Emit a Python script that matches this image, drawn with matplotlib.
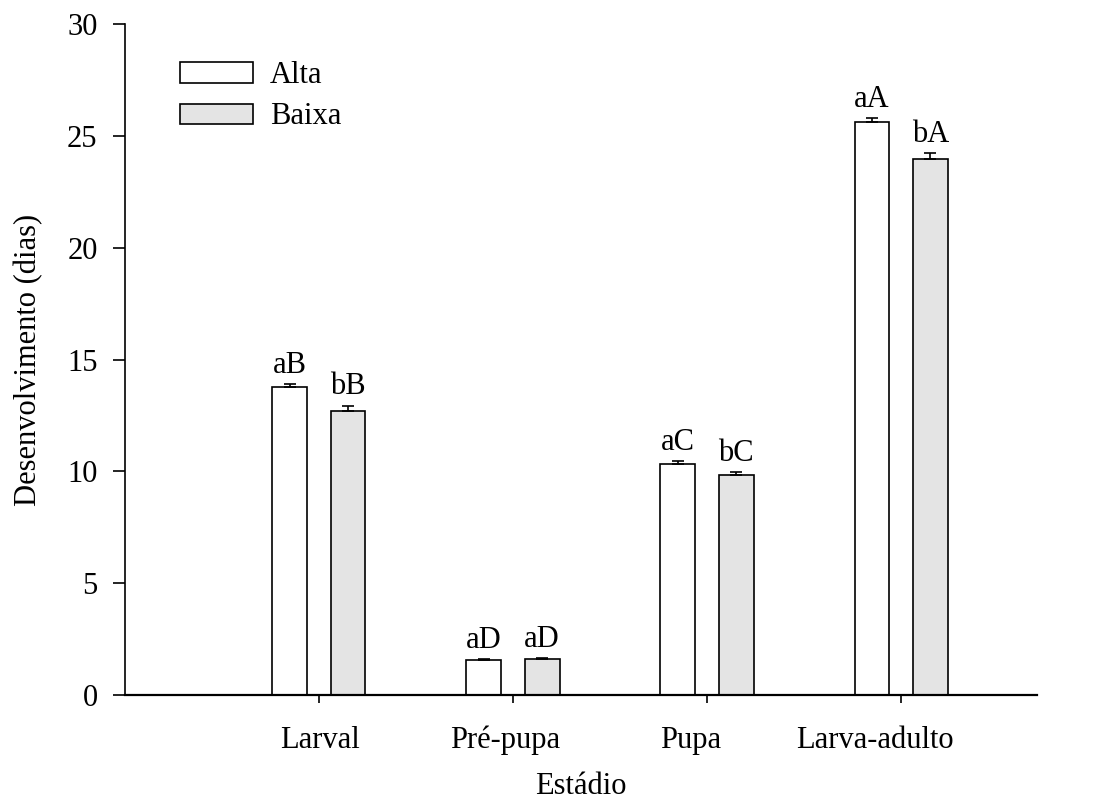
import matplotlib.pyplot as plt
import numpy as np

# dados
estadios = ['Larval', 'Pré-pupa', 'Pupa', 'Larva-adulto']
alta = [13.77, 1.56, 10.33, 25.61]
alta_erro = [0.15, 0.03, 0.12, 0.20]
baixa = [12.71, 1.62, 9.83, 23.96]
baixa_erro = [0.24, 0.03, 0.14, 0.30]
letras_alta = ['aB', 'aD', 'aC', 'aA']
letras_baixa = ['bB', 'aD', 'bC', 'bA']

plt.rcParams['font.family'] = ['Liberation Serif', 'DejaVu Serif']
fs = 22

fig = plt.figure(figsize=(10.95, 8.11), dpi=100)
ax = fig.add_axes([0.114, 0.143, 0.833, 0.827])

x = np.arange(len(estadios))
w = 0.18
d = 0.15

ax.bar(x - d, alta, w, color='white', edgecolor='black', linewidth=1.2, label='Alta', zorder=2)
ax.bar(x + d, baixa, w, color='#e4e4e4', edgecolor='black', linewidth=1.2, label='Baixa', zorder=2)
ax.errorbar(x - d, alta, yerr=[np.zeros(4), alta_erro], fmt='none', ecolor='black',
            elinewidth=1.2, capsize=4, capthick=1.2, zorder=3)
ax.errorbar(x + d, baixa, yerr=[np.zeros(4), baixa_erro], fmt='none', ecolor='black',
            elinewidth=1.2, capsize=4, capthick=1.2, zorder=3)

# letras acima das barras
for i in range(len(estadios)):
    ax.annotate(letras_alta[i], (x[i] - d, alta[i] + alta_erro[i]), xytext=(0, 8),
                textcoords='offset points', ha='center', va='baseline', fontsize=fs)
    ax.annotate(letras_baixa[i], (x[i] + d, baixa[i] + baixa_erro[i]), xytext=(0, 8),
                textcoords='offset points', ha='center', va='baseline', fontsize=fs)

ax.set_xlim(-1, 3.7)
ax.set_ylim(0, 30)
ax.set_yticks(range(0, 31, 5))
ax.tick_params(axis='y', direction='out', length=8.6, width=1.2, pad=11, labelsize=fs)

# ticks no centro do grupo, rótulos levemente deslocados (como no original)
ax.set_xticks(x)
ax.set_xticklabels([])
ax.tick_params(axis='x', which='major', direction='out', length=6, width=1.2)
ax.set_xticks(x * 0.954 + 0.005, minor=True)
ax.set_xticklabels(estadios, minor=True)
ax.tick_params(axis='x', which='minor', length=0, pad=22, labelsize=fs)

for s in ['top', 'right']:
    ax.spines[s].set_visible(False)
ax.spines['left'].set_linewidth(1.2)
ax.spines['bottom'].set_linewidth(1.6)

ax.set_ylabel('Desenvolvimento (dias)', fontsize=fs)
ax.yaxis.set_label_coords(-0.09, 0.5)
ax.set_xlabel('Estádio', fontsize=fs)
ax.xaxis.set_label_coords(0.5, -0.115)

ax.legend(loc='upper left', bbox_to_anchor=(0.061, 0.945), frameon=False, fontsize=fs,
          handlelength=2.38, handleheight=0.65, labelspacing=0.4, handletextpad=0.55,
          borderpad=0, borderaxespad=0)

plt.savefig('out.png', dpi=100)
